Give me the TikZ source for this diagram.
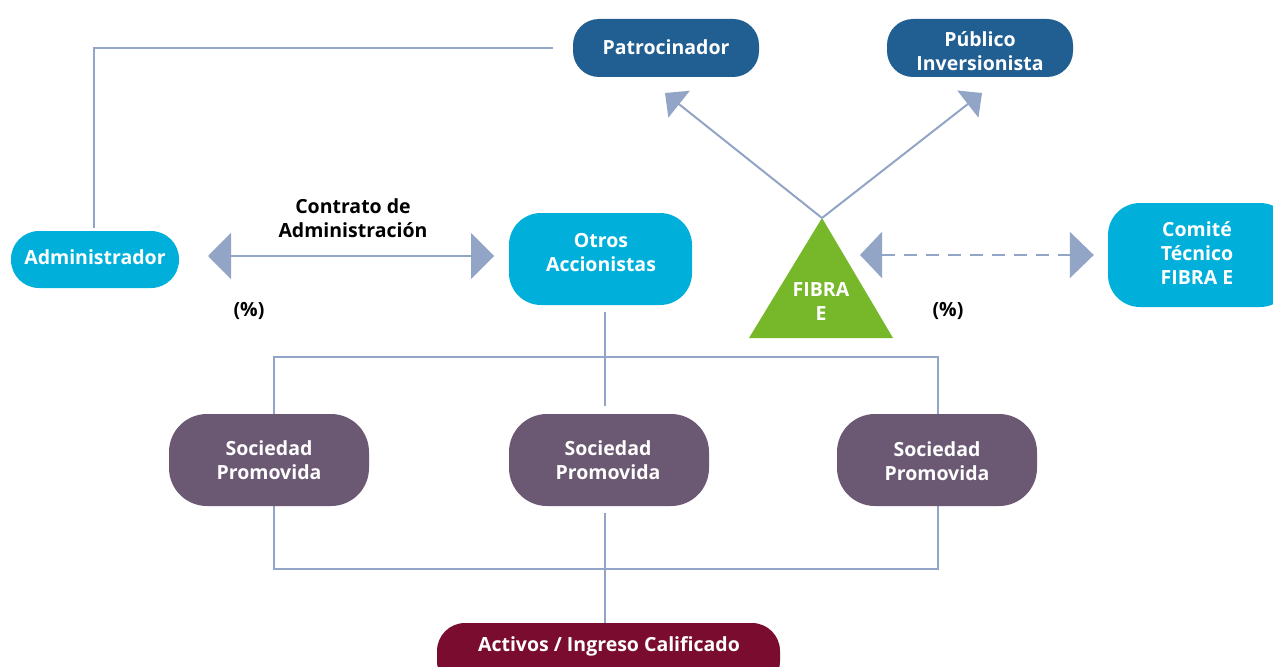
\documentclass[tikz,border=0pt]{standalone}
\usepackage{fontspec}
\setmainfont{Open Sans}
\usetikzlibrary{arrows.meta}
\definecolor{navy}{HTML}{215E91}
\definecolor{aqua}{HTML}{00B0DB}
\definecolor{leaf}{HTML}{77B82A}
\definecolor{plum}{HTML}{6B5873}
\definecolor{wine}{HTML}{7A0D2F}
\definecolor{link}{HTML}{92A5C6}
\tikzset{
  box/.style={rounded corners=#1, inner sep=0pt, align=center, text=white,
    font=\fontsize{19.5}{24}\selectfont\bfseries},
  box/.default=26pt,
  txt/.style={inner sep=0pt, align=center, text=white,
    font=\fontsize{19.5}{24}\selectfont\bfseries},
  lbl/.style={align=center, text=black, font=\fontsize{19.5}{24}\selectfont\bfseries},
  conn/.style={draw=link, line width=2pt},
  bighead/.style={conn, {Triangle[length=23pt,width=46pt,fill=link]}-{Triangle[length=23pt,width=46pt,fill=link]}},
  diaghead/.style={conn, -{Triangle[length=18pt,width=34pt,fill=link]}},
}
\begin{document}
\begin{tikzpicture}[x=1pt,y=-1pt]
\useasboundingbox (0,0) rectangle (1273,666);
\clip (0,0) rectangle (1273,666);
\fill[white] (0,0) rectangle (1273,666);

% top row
\node[box=26pt, fill=navy, minimum width=186pt, minimum height=58pt] (patro) at (666,48) {};
\node[txt] (patrotxt) at (666,47) {Patrocinador};
\node[box=26pt, fill=navy, minimum width=186pt, minimum height=58pt] (publico) at (980,48) {};
\node[txt] (publicotxt) at (980,51) {Público\\Inversionista};

% middle row
\node[box=28pt, fill=aqua, minimum width=168pt, minimum height=57pt] (admin) at (95,259.5) {};
\node[txt] (admintxt) at (95,257.5) {Administrador};
\node[box=32pt, fill=aqua, minimum width=183pt, minimum height=92pt] (otros) at (600.5,259) {};
\node[txt] (otrostxt) at (601,253) {Otros\\Accionistas};
\node[box=32pt, fill=aqua, minimum width=184pt, minimum height=104pt] (comite) at (1200,255) {};
\node[txt] (comitetxt) at (1197,253) {Comité\\Técnico\\FIBRA E};

% FIBRA E triangle
\fill[leaf] (822,218) -- (893,338) -- (749,338) -- cycle;
\coordinate (apex) at (822,218);
\node[txt] (fibra) at (821,302) {FIBRA\\E};

% promoted companies and assets
\node[box=38pt, fill=plum, minimum width=200pt, minimum height=92pt] (soc1) at (269,460) {};
\node[txt] (soc1txt) at (269,460) {Sociedad\\Promovida};
\node[box=38pt, fill=plum, minimum width=200pt, minimum height=92pt] (soc2) at (609,460) {};
\node[txt] (soc2txt) at (608,460) {Sociedad\\Promovida};
\node[box=38pt, fill=plum, minimum width=200pt, minimum height=92pt] (soc3) at (937,460) {};
\node[txt] (soc3txt) at (937,461) {Sociedad\\Promovida};
\node[box=28pt, fill=wine, minimum width=343pt, minimum height=66pt] (activos) at (608.5,656) {};
\node[txt] (activostxt) at (609,646) {Activos / Ingreso Calificado};

% labels
\node[lbl] (contrato) at (353,218) {Contrato de\\Administración};
\node[lbl] (pctL) at (249,311) {(\%)};
\node[lbl] (pctR) at (948,311) {(\%)};

% sponsor to administrator
\coordinate (pstart) at ([xshift=-20pt]patro.west);
\coordinate (aend) at ([yshift=3pt]admin.north);
\draw[conn] (pstart) -| (94,0 |- aend);

% management contract
\coordinate (cL) at (208,256);
\coordinate (cR) at (494,256);
\draw[bighead] (cL) -- (cR);

% FIBRA E to sponsor and public investors
\draw[diaghead] (apex) -- (665,93);
\draw[diaghead] (apex) -- (982,93);

% FIBRA E to technical committee
\coordinate (dL) at (860,255);
\coordinate (dR) at ([xshift=-14pt]comite.west);
\draw[conn, dash pattern=on 13pt off 9pt, {Triangle[length=22pt,width=46pt,fill=link]}-{Triangle[length=24pt,width=46pt,fill=link]}]
  (dL) -- (dR);

% upper distribution
\coordinate (hub) at (605,357);
\draw[conn] (605,312) -- (605,406);
\draw[conn] (274,414) -- (274,357) -- (938,357) -- (938,414);

% lower collection
\draw[conn] (274,506) -- (274,569) -- (938,569) -- (938,506);
\draw[conn] (605,513) -- (activos.north -| 605,0);
\end{tikzpicture}
\end{document}
